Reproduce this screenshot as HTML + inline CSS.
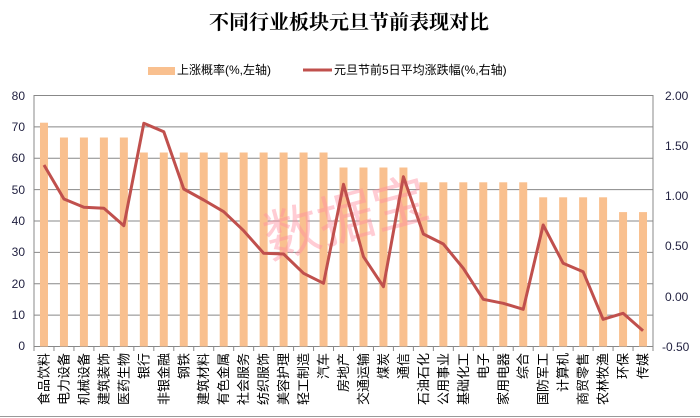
<!DOCTYPE html>
<html><head><meta charset="utf-8"><style>
html,body{margin:0;padding:0;background:#fff;}
svg{display:block;}
text{font-family:"Liberation Sans","Noto Sans CJK SC",sans-serif;}
</style></head><body>
<svg width="700" height="418" viewBox="0 0 700 418" xmlns="http://www.w3.org/2000/svg">
<rect width="700" height="418" fill="#fff"/>
<text x="349" y="29" text-anchor="middle" font-size="20" font-weight="bold" style="font-family:'Liberation Serif','Noto Serif CJK SC',serif">不同行业板块元旦节前表现对比</text>
<rect x="148" y="67" width="27" height="8" fill="#f9c08f"/>
<text x="177" y="74" font-size="12">上涨概率(%,左轴)</text>
<line x1="303" y1="70" x2="332" y2="70" stroke="#c0504d" stroke-width="3"/>
<text x="334" y="74" font-size="12">元旦节前5日平均涨跌幅(%,右轴)</text>
<g stroke="#888" stroke-width="1">
<line x1="34" y1="95.5" x2="653" y2="95.5"/>
<line x1="34" y1="126.9" x2="653" y2="126.9"/>
<line x1="34" y1="158.2" x2="653" y2="158.2"/>
<line x1="34" y1="189.6" x2="653" y2="189.6"/>
<line x1="34" y1="221" x2="653" y2="221"/>
<line x1="34" y1="252.4" x2="653" y2="252.4"/>
<line x1="34" y1="283.7" x2="653" y2="283.7"/>
<line x1="34" y1="315.1" x2="653" y2="315.1"/>
<line x1="34" y1="346.5" x2="653" y2="346.5"/>
<line x1="34" y1="95" x2="34" y2="347"/>
<line x1="653" y1="95" x2="653" y2="347"/>
</g>
<g fill="#f9c08f">
<rect x="39.98" y="122.7" width="8" height="223.8"/>
<rect x="59.95" y="137.5" width="8" height="209"/>
<rect x="79.92" y="137.5" width="8" height="209"/>
<rect x="99.89" y="137.5" width="8" height="209"/>
<rect x="119.86" y="137.5" width="8" height="209"/>
<rect x="139.82" y="152.5" width="8" height="194"/>
<rect x="159.79" y="152.5" width="8" height="194"/>
<rect x="179.76" y="152.5" width="8" height="194"/>
<rect x="199.73" y="152.5" width="8" height="194"/>
<rect x="219.70" y="152.5" width="8" height="194"/>
<rect x="239.66" y="152.5" width="8" height="194"/>
<rect x="259.63" y="152.5" width="8" height="194"/>
<rect x="279.60" y="152.5" width="8" height="194"/>
<rect x="299.57" y="152.5" width="8" height="194"/>
<rect x="319.54" y="152.5" width="8" height="194"/>
<rect x="339.50" y="167.5" width="8" height="179"/>
<rect x="359.47" y="167.5" width="8" height="179"/>
<rect x="379.44" y="167.5" width="8" height="179"/>
<rect x="399.41" y="167.5" width="8" height="179"/>
<rect x="419.38" y="182.3" width="8" height="164.2"/>
<rect x="439.34" y="182.3" width="8" height="164.2"/>
<rect x="459.31" y="182.3" width="8" height="164.2"/>
<rect x="479.28" y="182.3" width="8" height="164.2"/>
<rect x="499.25" y="182.3" width="8" height="164.2"/>
<rect x="519.22" y="182.3" width="8" height="164.2"/>
<rect x="539.18" y="197.3" width="8" height="149.2"/>
<rect x="559.15" y="197.3" width="8" height="149.2"/>
<rect x="579.12" y="197.3" width="8" height="149.2"/>
<rect x="599.09" y="197.3" width="8" height="149.2"/>
<rect x="619.06" y="212.1" width="8" height="134.4"/>
<rect x="639.02" y="212.1" width="8" height="134.4"/>
</g>
<g stroke="#888">
<line x1="34" y1="346" x2="34" y2="351"/><line x1="53.97" y1="346" x2="53.97" y2="351"/><line x1="73.94" y1="346" x2="73.94" y2="351"/><line x1="93.9" y1="346" x2="93.9" y2="351"/><line x1="113.87" y1="346" x2="113.87" y2="351"/><line x1="133.84" y1="346" x2="133.84" y2="351"/><line x1="153.81" y1="346" x2="153.81" y2="351"/><line x1="173.78" y1="346" x2="173.78" y2="351"/><line x1="193.74" y1="346" x2="193.74" y2="351"/><line x1="213.71" y1="346" x2="213.71" y2="351"/><line x1="233.68" y1="346" x2="233.68" y2="351"/><line x1="253.65" y1="346" x2="253.65" y2="351"/><line x1="273.62" y1="346" x2="273.62" y2="351"/><line x1="293.58" y1="346" x2="293.58" y2="351"/><line x1="313.55" y1="346" x2="313.55" y2="351"/><line x1="333.52" y1="346" x2="333.52" y2="351"/><line x1="353.49" y1="346" x2="353.49" y2="351"/><line x1="373.46" y1="346" x2="373.46" y2="351"/><line x1="393.42" y1="346" x2="393.42" y2="351"/><line x1="413.39" y1="346" x2="413.39" y2="351"/><line x1="433.36" y1="346" x2="433.36" y2="351"/><line x1="453.33" y1="346" x2="453.33" y2="351"/><line x1="473.3" y1="346" x2="473.3" y2="351"/><line x1="493.26" y1="346" x2="493.26" y2="351"/><line x1="513.23" y1="346" x2="513.23" y2="351"/><line x1="533.2" y1="346" x2="533.2" y2="351"/><line x1="553.17" y1="346" x2="553.17" y2="351"/><line x1="573.14" y1="346" x2="573.14" y2="351"/><line x1="593.1" y1="346" x2="593.1" y2="351"/><line x1="613.07" y1="346" x2="613.07" y2="351"/><line x1="633.04" y1="346" x2="633.04" y2="351"/><line x1="653" y1="346" x2="653" y2="351"/>
</g>
<text x="346" y="238" transform="rotate(-15 346 218)" font-size="56" fill="#ff8fa0" fill-opacity="0.45" text-anchor="middle" style="font-family:'Noto Sans CJK SC',sans-serif">数据宝</text>
<polyline fill="none" stroke="#c0504d" stroke-width="3" stroke-linejoin="round" points="43.98,165 63.95,199 83.92,207.3 103.89,208.3 123.86,225.7 143.82,123.3 163.79,131.7 183.76,189 203.73,200 223.70,211.7 243.66,230.7 263.63,253.3 283.60,254 303.57,273.3 323.54,283.3 343.50,184.3 363.47,256.7 383.44,286.7 403.41,176.7 423.38,234 443.34,244 463.31,268.3 483.28,299.3 503.25,303.3 523.22,309.3 543.18,225 563.15,263.3 583.12,271.7 603.09,319.3 623.06,313.3 643.02,330.7"/>
<g font-size="12" fill="#1f1f3f" text-anchor="end">
<text x="25" y="100">80</text><text x="25" y="131">70</text><text x="25" y="162">60</text><text x="25" y="194">50</text><text x="25" y="225">40</text><text x="25" y="256">30</text><text x="25" y="288">20</text><text x="25" y="319">10</text><text x="25" y="350">0</text>
</g>
<g font-size="12" fill="#1f1f3f">
<text x="665" y="100">2.00</text><text x="665" y="150">1.50</text><text x="665" y="200">1.00</text><text x="665" y="250">0.50</text><text x="665" y="301">0.00</text><text x="662" y="351">-0.50</text>
</g>
<g font-size="13" text-anchor="end">
<text transform="translate(48.5,353) rotate(-90)">食品饮料</text>
<text transform="translate(68.45,353) rotate(-90)">电力设备</text>
<text transform="translate(88.42,353) rotate(-90)">机械设备</text>
<text transform="translate(108.39,353) rotate(-90)">建筑装饰</text>
<text transform="translate(128.36,353) rotate(-90)">医药生物</text>
<text transform="translate(148.32,353) rotate(-90)">银行</text>
<text transform="translate(168.29,353) rotate(-90)">非银金融</text>
<text transform="translate(188.26,353) rotate(-90)">钢铁</text>
<text transform="translate(208.23,353) rotate(-90)">建筑材料</text>
<text transform="translate(228.2,353) rotate(-90)">有色金属</text>
<text transform="translate(248.16,353) rotate(-90)">社会服务</text>
<text transform="translate(268.13,353) rotate(-90)">纺织服饰</text>
<text transform="translate(288.1,353) rotate(-90)">美容护理</text>
<text transform="translate(308.07,353) rotate(-90)">轻工制造</text>
<text transform="translate(328.04,353) rotate(-90)">汽车</text>
<text transform="translate(348,353) rotate(-90)">房地产</text>
<text transform="translate(367.97,353) rotate(-90)">交通运输</text>
<text transform="translate(387.94,353) rotate(-90)">煤炭</text>
<text transform="translate(407.91,353) rotate(-90)">通信</text>
<text transform="translate(427.88,353) rotate(-90)">石油石化</text>
<text transform="translate(447.84,353) rotate(-90)">公用事业</text>
<text transform="translate(467.81,353) rotate(-90)">基础化工</text>
<text transform="translate(487.78,353) rotate(-90)">电子</text>
<text transform="translate(507.75,353) rotate(-90)">家用电器</text>
<text transform="translate(527.72,353) rotate(-90)">综合</text>
<text transform="translate(547.68,353) rotate(-90)">国防军工</text>
<text transform="translate(567.65,353) rotate(-90)">计算机</text>
<text transform="translate(587.62,353) rotate(-90)">商贸零售</text>
<text transform="translate(607.59,353) rotate(-90)">农林牧渔</text>
<text transform="translate(627.56,353) rotate(-90)">环保</text>
<text transform="translate(647.52,353) rotate(-90)">传媒</text>
</g>
<line x1="0" y1="416.5" x2="700" y2="416.5" stroke="#999"/>
</svg>
</body></html>
